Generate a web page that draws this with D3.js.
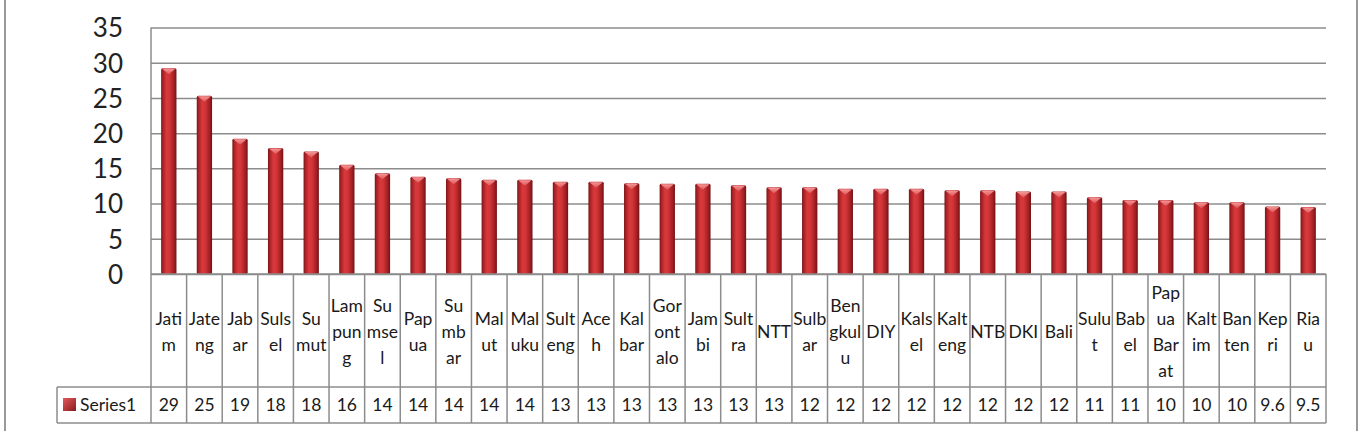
<!DOCTYPE html>
<html>
<head>
<meta charset="utf-8">
<script src="https://cdn.jsdelivr.net/npm/d3@7"></script>
<style>
  html, body { margin: 0; padding: 0; background: #fff; }
  svg { display: block; }
  text { font-family: Lato, "Open Sans", sans-serif; fill: #1a1a1a; }
</style>
</head>
<body>
<svg id="chart" width="1362" height="431"></svg>
<script>
// ---- data ----
const categories = ["Jatim","Jateng","Jabar","Sulsel","Sumut","Lampung","Sumsel","Papua","Sumbar","Malut","Maluku","Sulteng","Aceh","Kalbar","Gorontalo","Jambi","Sultra","NTT","Sulbar","Bengkulu","DIY","Kalsel","Kalteng","NTB","DKI","Bali","Sulut","Babel","Papua Barat","Kaltim","Banten","Kepri","Riau"];
const categoryLines = ["Jati|m","Jate|ng","Jab|ar","Suls|el","Su|mut","Lam|pun|g","Su|mse|l","Pap|ua","Su|mb|ar","Mal|ut","Mal|uku","Sult|eng","Ace|h","Kal|bar","Gor|ont|alo","Jam|bi","Sult|ra","NTT","Sulb|ar","Ben|gkul|u","DIY","Kals|el","Kalt|eng","NTB","DKI","Bali","Sulu|t","Bab|el","Pap|ua|Bar|at","Kalt|im","Ban|ten","Kep|ri","Ria|u"];
const series1 = [29.2,25.3,19.2,17.9,17.4,15.5,14.3,13.8,13.6,13.4,13.4,13.1,13.1,12.9,12.8,12.8,12.6,12.3,12.3,12.1,12.1,12.1,11.9,11.9,11.7,11.7,10.9,10.5,10.5,10.2,10.2,9.6,9.5];
const tableLabels = ["29","25","19","18","18","16","14","14","14","14","14","13","13","13","13","13","13","13","12","12","12","12","12","12","12","12","11","11","10","10","10","9.6","9.5"];
const seriesName = "Series1";
const yTicks = [0,5,10,15,20,25,30,35];

// ---- layout ----
const svg = d3.select("#chart");
const plotL = 151, plotR = 1326, plotT = 27.5, base = 274;
const row1Bottom = 387, row2Bottom = 423, legendLeft = 57;
const grid = "#8c8c8c";

const x = d3.scaleBand().domain(categories).range([plotL, plotR]).padding(0);
const y = d3.scaleLinear().domain([0, 35]).range([base, plotT]);

// page borders
svg.append("line").attr("x1",5).attr("x2",5).attr("y1",0).attr("y2",431).attr("stroke","#9a9a9a").attr("stroke-width",2);
svg.append("line").attr("x1",1357).attr("x2",1357).attr("y1",0).attr("y2",431).attr("stroke","#9a9a9a").attr("stroke-width",2);

// gradients
const defs = svg.append("defs");
const g1 = defs.append("linearGradient").attr("id","barGrad").attr("x1","0").attr("x2","1").attr("y1","0").attr("y2","0");
[[0,"#7a1416"],[0.12,"#a82226"],[0.35,"#d8393b"],[0.55,"#d23538"],[0.85,"#a01e22"],[1,"#6e1214"]].forEach(([o,c])=>g1.append("stop").attr("offset",o).attr("stop-color",c));
const g2 = defs.append("linearGradient").attr("id","capGrad").attr("x1","0").attr("x2","0").attr("y1","0").attr("y2","1");
[[0,"#f7a0a0"],[1,"#e05a5c"]].forEach(([o,c])=>g2.append("stop").attr("offset",o).attr("stop-color",c));
const g3 = defs.append("linearGradient").attr("id","keyGrad").attr("x1","0").attr("x2","1").attr("y1","0").attr("y2","1");
[[0,"#e25a5c"],[1,"#8a1a1c"]].forEach(([o,c])=>g3.append("stop").attr("offset",o).attr("stop-color",c));

// gridlines
const yAxis = d3.axisLeft(y).tickValues(yTicks).tickSize(-(plotR-plotL)).tickFormat(d3.format("d"));
const ga = svg.append("g").attr("transform",`translate(${plotL},0)`).call(yAxis);
ga.select(".domain").remove();
ga.selectAll(".tick line").attr("stroke",grid).attr("stroke-width",1.5);
ga.selectAll(".tick text").attr("x",-28).attr("dy","0.36em").style("font-size","26px").style("fill","#222");

// plot left border
svg.append("line").attr("x1",plotL).attr("x2",plotL).attr("y1",plotT).attr("y2",row2Bottom).attr("stroke",grid).attr("stroke-width",1.5);

// bars
const bw = x.bandwidth()*0.43;
const bars = svg.append("g").selectAll("g").data(categories).join("g")
  .attr("transform",(d)=>`translate(${x(d)+x.bandwidth()/2 - bw/2},0)`);
bars.append("rect")
  .attr("x",0).attr("width",bw)
  .attr("y",(d,i)=>y(series1[i])).attr("height",(d,i)=>base - y(series1[i]))
  .attr("rx",1.5)
  .attr("fill","url(#barGrad)");
bars.append("path")
  .attr("d",(d,i)=>{const t=y(series1[i]); return `M1,${t+0.5} L${bw-1},${t+0.5} L${bw/2},${t+6} Z`;})
  .attr("fill","url(#capGrad)").attr("opacity",0.9);

// table
const tbl = svg.append("g");
tbl.append("line").attr("x1",plotL).attr("x2",plotR).attr("y1",base).attr("y2",base).attr("stroke",grid).attr("stroke-width",1.5);
tbl.append("line").attr("x1",legendLeft).attr("x2",plotR).attr("y1",row1Bottom).attr("y2",row1Bottom).attr("stroke",grid).attr("stroke-width",1.5);
tbl.append("line").attr("x1",legendLeft).attr("x2",plotR).attr("y1",row2Bottom).attr("y2",row2Bottom).attr("stroke",grid).attr("stroke-width",1.5);
tbl.append("line").attr("x1",legendLeft).attr("x2",legendLeft).attr("y1",row1Bottom).attr("y2",row2Bottom).attr("stroke",grid).attr("stroke-width",1.5);
categories.forEach((c)=>{
  const xr = x(c)+x.bandwidth();
  tbl.append("line").attr("x1",xr).attr("x2",xr).attr("y1",base).attr("y2",row2Bottom).attr("stroke",grid).attr("stroke-width",1.5);
});

// category labels
const lineH = 26, midY = 332;
categories.forEach((c,i)=>{
  const lines = categoryLines[i].split("|");
  const cx = x(c)+x.bandwidth()/2;
  const t = tbl.append("text").attr("text-anchor","middle").style("font-size","17.5px");
  lines.forEach((ln,k)=>{
    t.append("tspan").attr("x",cx).attr("y", midY + (k-(lines.length-1)/2)*lineH).attr("dy","0.36em").text(ln);
  });
});

// values row
categories.forEach((c,i)=>{
  tbl.append("text").attr("x",x(c)+x.bandwidth()/2).attr("y",(row1Bottom+row2Bottom)/2).attr("dy","0.36em")
    .attr("text-anchor","middle").style("font-size","17.5px").text(tableLabels[i]);
});

// legend key
tbl.append("rect").attr("x",63).attr("y",398).attr("width",13).attr("height",13).attr("fill","url(#keyGrad)");
tbl.append("text").attr("x",80).attr("y",(row1Bottom+row2Bottom)/2).attr("dy","0.36em").style("font-size","17.5px").text(seriesName);
</script>
</body>
</html>
